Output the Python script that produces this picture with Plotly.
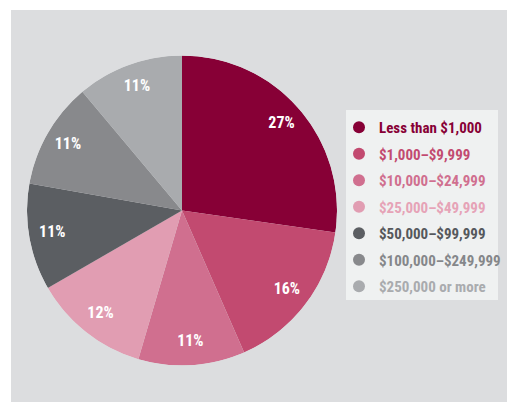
import plotly.graph_objects as go

categories = ["Less than $1,000", "$1,000–$9,999", "$10,000–$24,999", "$25,000–$49,999",
              "$50,000–$99,999", "$100,000–$249,999", "$250,000 or more"]
values = [27, 16, 11, 12, 11, 11, 11]
colors = ["#870036", "#c24a70", "#d06f8f", "#e19db2", "#5b5e62", "#88898c", "#a9abae"]
legend_text_colors = ["#870036", "#c24a70", "#d06f8f", "#e6a3b7", "#55585c", "#85878a", "#a9abae"]

W, H = 507, 402
FONT = "Liberation Sans Narrow, Roboto Condensed, Arial Narrow, DejaVu Sans Condensed, sans-serif"

# pie geometry (pixels)
cx, cy, R = 182, 210.5, 155
dom_x = [(cx - R) / W, (cx + R) / W]
dom_y = [1 - (cy + R) / H, 1 - (cy - R) / H]

total = sum(values)
widths = [v / total * 360 for v in values]
thetas = []
acc = 0
for v in values:
    thetas.append((acc + v / 2) / total * 360)
    acc += v

fig = go.Figure()
# pie wedges drawn as polar bars
fig.add_trace(go.Barpolar(
    r=[1] * len(values), theta=thetas, width=widths, base=0,
    marker=dict(color=colors, line=dict(width=0)),
    customdata=categories, hovertemplate="%{customdata}: %{text}<extra></extra>",
    text=[f"{v}%" for v in values], showlegend=False,
))
# percentage labels
fig.add_trace(go.Scatterpolar(
    r=[0.85] * len(values), theta=thetas, mode="text",
    text=[f"<b>{v}%</b>" for v in values],
    textfont=dict(family=FONT, size=16, color="white"),
    showlegend=False, hoverinfo="skip",
))

# legend entries with circle markers
for i, (c, col, tcol) in enumerate(zip(categories, colors, legend_text_colors)):
    fig.add_trace(go.Scatterpolar(
        r=[None], theta=[None], mode="markers",
        marker=dict(symbol="circle", size=12, color=col),
        name=f"<b><span style='color:{tcol}'>{c}</span></b>",
        legendgroup=f"g{i}", showlegend=True,
    ))

fig.update_layout(
    width=W, height=H, margin=dict(l=0, r=0, t=0, b=0, autoexpand=False),
    paper_bgcolor="white",
    polar=dict(
        domain=dict(x=dom_x, y=dom_y), bgcolor="rgba(0,0,0,0)", bargap=0,
        angularaxis=dict(visible=False, rotation=90, direction="clockwise"),
        radialaxis=dict(visible=False, range=[0, 1]),
    ),
    legend=dict(
        x=339 / W, y=1 - 111 / H, xanchor="left", yanchor="top",
        bgcolor="rgba(0,0,0,0)", font=dict(family=FONT, size=15),
        tracegroupgap=4, itemclick=False,
    ),
    shapes=[
        dict(type="rect", xref="paper", yref="paper", x0=11 / W, x1=1, y0=0, y1=1 - 10 / H,
             fillcolor="#dcdddf", line=dict(width=0), layer="below"),
        dict(type="rect", xref="paper", yref="paper", x0=346 / W, x1=498 / W,
             y0=1 - 300 / H, y1=1 - 110 / H,
             fillcolor="#eff1f1", line=dict(width=0), layer="below"),
    ],
    showlegend=True,
)

fig.write_html("out.html")
